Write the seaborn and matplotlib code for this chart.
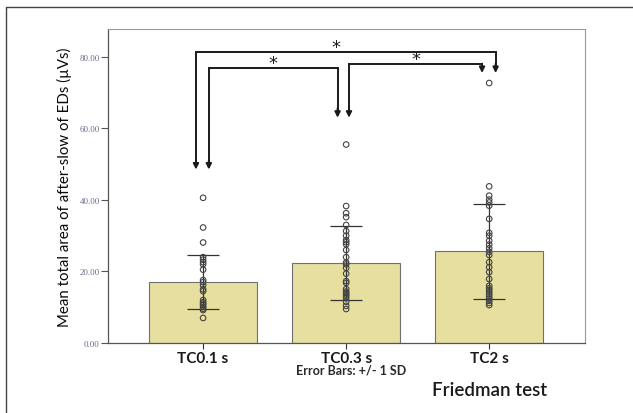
import matplotlib
matplotlib.use('Agg')
import matplotlib.pyplot as plt
from matplotlib.lines import Line2D
import seaborn as sns
import pandas as pd

# Group labels and summary values
groups = ['TC0.1 s', 'TC0.3 s', 'TC2 s']
means = [17.1, 22.3, 25.6]
sds = [7.6, 10.3, 13.4]

# Individual subject values (open circles)
tc01 = [40.6, 32.3, 28.1, 24.0, 23.3, 22.6, 22.0, 20.5, 17.6, 17.0, 16.2,
        15.0, 14.5, 12.0, 11.4, 11.0, 10.6, 10.1, 9.6, 9.2, 7.0]
tc03 = [55.5, 38.3, 36.3, 35.2, 33.0, 31.3, 30.0, 28.8, 28.2, 27.6, 26.0,
        24.0, 22.5, 22.0, 21.0, 19.4, 17.3, 16.8, 15.1, 14.4, 14.0, 13.5,
        13.0, 12.5, 11.5, 10.4, 9.5]
tc2 = [72.7, 43.8, 41.2, 40.1, 39.3, 38.4, 34.7, 30.8, 30.0, 28.6, 27.5,
       26.5, 25.5, 24.6, 22.6, 21.2, 19.8, 17.9, 16.0, 15.3, 14.8, 14.2,
       13.6, 13.0, 12.4, 11.8, 11.2, 10.6]

# Significance brackets: (from group, to group), arrow tips, bar height
pairs = [(0, 2), (0, 1), (1, 2)]
tips = [(48.5, 75.5), (48.5, 63.0), (63.0, 75.5)]
heights = [81.4, 76.9, 78.0]

summary = pd.DataFrame({'group': groups, 'mean': means})
points = pd.DataFrame({
    'group': [groups[0]] * len(tc01) + [groups[1]] * len(tc03) + [groups[2]] * len(tc2),
    'value': tc01 + tc03 + tc2,
})

sns.set_style('white')
plt.rcParams['font.family'] = ['Lato', 'DejaVu Sans']

fig = plt.figure(figsize=(6.33, 4.14), dpi=100)
ax = fig.add_axes([0.1706, 0.1691, 0.7536, 0.7584])

sns.barplot(data=summary, x='group', y='mean', order=groups, color='#e6dfa0',
            saturation=1, width=0.755, edgecolor='#707070', linewidth=0.8,
            errorbar=None, ax=ax, zorder=1)

eb = ax.errorbar(range(len(groups)), means, yerr=sds, fmt='none', ecolor='#333333',
                 elinewidth=0.9, capsize=11.5, capthick=0.9, zorder=2)
for cap in eb[1]:
    cap.set_color('#5a5a78')

sns.stripplot(data=points, x='group', y='value', order=groups, jitter=False,
              size=4, color='#444444', linewidth=0.8, edgecolor='#444444',
              ax=ax, zorder=3)
for coll in ax.collections:
    if coll.get_offsets().shape[0] > 3:
        coll.set_facecolor('none')

# brackets with arrows
lw = 1.4
offs = {0: (-0.05, 0.04), 1: (-0.06, 0.02), 2: (-0.05, 0.045)}
for (a, b), (ta, tb), h in zip(pairs, tips, heights):
    xa = a + (offs[a][0] if b == 2 and a == 0 else offs[a][1])
    xb = b + (offs[b][1] if a == 0 and b == 2 else offs[b][0])
    ax.plot([xa, xa, xb, xb], [ta + 2.2, h, h, tb + 2.2], color='#1a1a1a', lw=lw,
            solid_joinstyle='miter', zorder=4)
    for xx, tt in ((xa, ta), (xb, tb)):
        ax.annotate('', xy=(xx, tt), xytext=(xx, tt + 2.6),
                    arrowprops=dict(arrowstyle='-|>', color='#1a1a1a', lw=lw,
                                    mutation_scale=8, shrinkA=0, shrinkB=0),
                    zorder=4)
    ax.text((xa + xb) / 2 - 0.07 if b - a == 2 else (xa + xb) / 2, h - 1.2, '*',
            ha='center', va='bottom', fontsize=13, color='#1a1a1a',
            family='DejaVu Sans')

ax.set_xlim(-0.665, 2.67)
ax.set_ylim(0, 87.8)
ax.set_yticks([0, 20, 40, 60, 80])
ax.set_yticklabels(['0.00', '20.00', '40.00', '60.00', '80.00'],
                   fontsize=6.5, color='#6b6b90', family='Liberation Serif')
ax.set_xticks(range(len(groups)))
ax.set_xticklabels(groups, fontsize=11, fontweight='bold', color='#1a1a1a')
ax.tick_params(axis='y', length=5, width=0.8, color='#555555', pad=1, left=True)
ax.tick_params(axis='x', length=4, width=0.8, color='#333333', pad=2, bottom=True)
ax.set_xlabel('')
ax.set_ylabel('Mean total area of after-slow of EDs (µVs)', fontsize=10.8,
              color='#0a0a0a', labelpad=5)

for side in ['top', 'right']:
    ax.spines[side].set_color('#9a9a9a')
    ax.spines[side].set_linewidth(0.8)
for side in ['left', 'bottom']:
    ax.spines[side].set_color('#555555')
    ax.spines[side].set_linewidth(0.9)

fig.text(351 / 633, 1 - 371 / 414, 'Error Bars: +/- 1 SD', ha='center', va='center',
         fontsize=9, fontweight='bold', color='#2a2a2a')
fig.text(490 / 633, 1 - 391 / 414, 'Friedman test', ha='center', va='center',
         fontsize=13.5, fontweight='semibold', color='#1a1a1a')

# outer frame of the figure panel
fig.add_artist(Line2D([6 / 633, 1], [1 - 8 / 414, 1 - 8 / 414], color='#444444', lw=1))
fig.add_artist(Line2D([6 / 633, 6 / 633], [0, 1 - 8 / 414], color='#444444', lw=1))

fig.savefig('out.png', dpi=100)
